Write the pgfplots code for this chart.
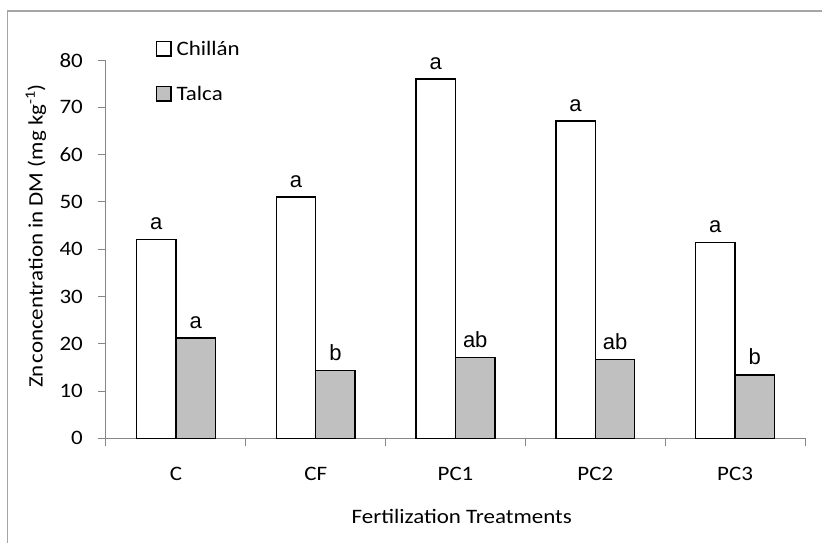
\documentclass[border=0pt]{standalone}
\usepackage{fontspec}
\setmainfont{Carlito}[FakeStretch=1.12]
\newfontfamily\arialf{Liberation Sans}
\usepackage{pgfplots}
\usepackage{pgfplotstable}
\pgfplotsset{compat=1.18}
\definecolor{axgray}{RGB}{134,134,134}
\definecolor{framegray}{RGB}{165,165,165}
\definecolor{talcagray}{RGB}{192,192,192}

\pgfplotstableread{
x y lab
0 42.0 a
1 51.0 a
2 76.0 a
3 67.1 a
4 41.4 a
}\chillan
\pgfplotstableread{
x y lab
0 21.2 a
1 14.4 b
2 17.1 ab
3 16.7 ab
4 13.4 b
}\talca

\newcommand{\lblfont}{\fontsize{20.5}{24}\selectfont}

\begin{document}
\begin{tikzpicture}
\begin{axis}[
  x=139.8pt, y=4.7275pt,
  xmin=-0.5, xmax=4.5, ymin=0, ymax=80,
  ybar=0pt, bar width=0.2825,
  axis lines*=left,
  axis line style={draw=axgray, line width=1pt},
  clip=false,
  ytick={0,10,...,80},
  xtick={0,1,2,3,4},
  xticklabels={C,CF,PC1,PC2,PC3},
  minor xtick={-0.5,0.5,1.5,2.5,3.5,4.5},
  tick align=outside,
  major tick length=8pt, minor tick length=8pt,
  major x tick style={draw=none},
  minor x tick style={draw=axgray, line width=1pt},
  ytick style={draw=axgray, line width=1pt},
  /pgf/number format/assume math mode=true,
  tick label style={font=\lblfont},
  xticklabel style={anchor=base, inner sep=0pt, yshift=-34.5pt},
  yticklabel style={anchor=east, inner sep=0pt, xshift=-15pt},
  xlabel={Fertilization Treatments},
  ylabel={Zn\hspace{0.08em}concentration in DM (mg kg\textsuperscript{-1})},
  label style={font=\lblfont},
  xlabel style={at={(axis description cs:0.509,-0.2248)}, anchor=base, inner sep=0pt},
  ylabel style={at={(axis description cs:-0.0908,0.535)}, anchor=base, inner sep=0pt},
  legend style={draw=none, fill=none, at={(axis description cs:0.0711,1.0513)}, anchor=north west,
    inner sep=0pt, font=\lblfont, row sep=29.4pt,
    nodes={inner sep=0pt, text height=14.3pt, text depth=0pt},
    /tikz/every odd column/.append style={column sep=5pt}},
  legend cell align=left,
  point meta=explicit symbolic,
  nodes near coords,
  nodes near coords style={font=\arialf\fontsize{22}{25}\selectfont, anchor=base, yshift=10pt, inner sep=0pt, text=black},
]
\addplot[draw=black, fill=white, line width=1.4pt, bar shift=-0.14125,
  legend image code/.code={\draw[draw=black, fill=white, line width=1.4pt] (0pt,-7.15pt) rectangle (14.3pt,7.15pt);}]
  table[x=x, y=y, meta=lab] {\chillan};
\addlegendentry{Chillán}
\addplot[draw=black, fill=talcagray, line width=1.4pt, bar shift=0.14125,
  legend image code/.code={\draw[draw=black, fill=talcagray, line width=1.4pt] (0pt,-7.15pt) rectangle (14.3pt,7.15pt);}]
  table[x=x, y=y, meta=lab] {\talca};
\addlegendentry{Talca}
\end{axis}
\draw[framegray, line width=1.3pt] (-98.7pt,-104.7pt) -- (-98.7pt,427.3pt) -- (716pt,427.3pt);
\pgfresetboundingbox
\path[use as bounding box] (-106pt,-104.7pt) rectangle (716pt,438.3pt);
\end{tikzpicture}
\end{document}
